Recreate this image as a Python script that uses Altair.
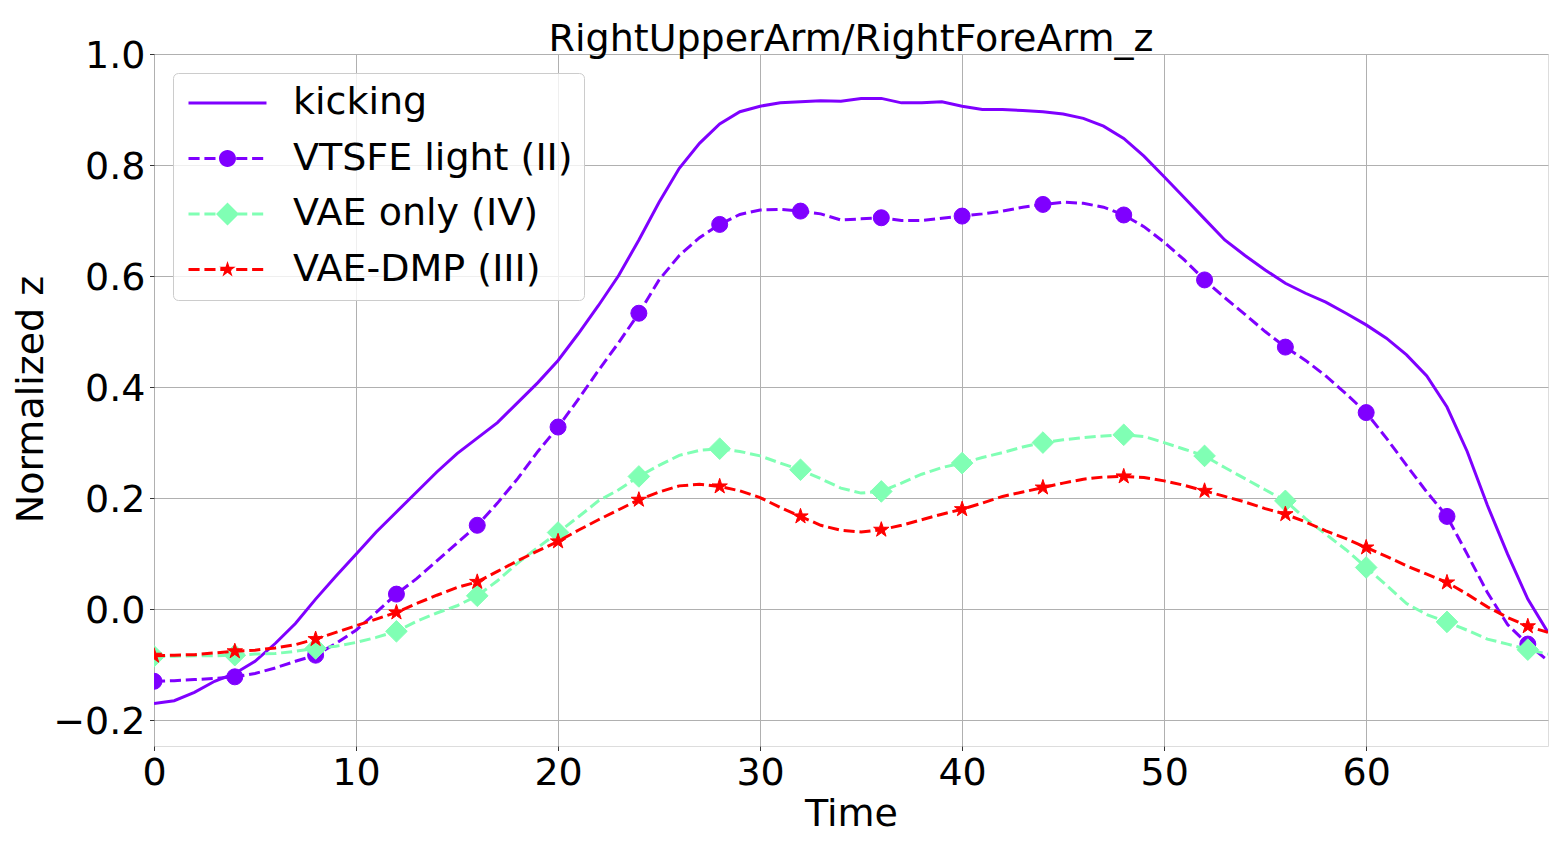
import altair as alt
import pandas as pd

time = list(range(70))

kicking = [-0.170, -0.165, -0.150, -0.130, -0.116, -0.094, -0.062, -0.026, 0.018, 0.059,
           0.099, 0.139, 0.175, 0.211, 0.247, 0.280, 0.308, 0.336, 0.372, 0.408,
           0.448, 0.496, 0.547, 0.601, 0.665, 0.733, 0.794, 0.839, 0.874, 0.896,
           0.906, 0.912, 0.914, 0.916, 0.915, 0.920, 0.920, 0.912, 0.912, 0.914,
           0.906, 0.900, 0.900, 0.898, 0.896, 0.892, 0.884, 0.870, 0.848, 0.816,
           0.779, 0.741, 0.703, 0.665, 0.637, 0.611, 0.587, 0.569, 0.553, 0.533,
           0.512, 0.488, 0.458, 0.420, 0.364, 0.284, 0.187, 0.099, 0.018, -0.042]

vtsfe_light = [-0.130, -0.129, -0.127, -0.125, -0.122, -0.116, -0.106, -0.094, -0.083, -0.062,
               -0.038, -0.006, 0.027, 0.055, 0.087, 0.119, 0.151, 0.191, 0.235, 0.284,
               0.328, 0.378, 0.430, 0.480, 0.533, 0.593, 0.637, 0.669, 0.693, 0.711,
               0.719, 0.720, 0.717, 0.712, 0.701, 0.703, 0.705, 0.700, 0.700, 0.704,
               0.708, 0.712, 0.717, 0.724, 0.729, 0.733, 0.731, 0.724, 0.710, 0.689,
               0.661, 0.629, 0.593, 0.561, 0.531, 0.500, 0.472, 0.448, 0.420, 0.388,
               0.354, 0.308, 0.259, 0.211, 0.167, 0.099, 0.030, -0.028, -0.063, -0.093]

vae_only = [-0.085, -0.085, -0.084, -0.084, -0.083, -0.081, -0.080, -0.076, -0.071, -0.067,
            -0.060, -0.051, -0.040, -0.022, -0.007, 0.006, 0.024, 0.051, 0.083, 0.111,
            0.138, 0.166, 0.195, 0.215, 0.239, 0.259, 0.277, 0.286, 0.289, 0.284,
            0.276, 0.263, 0.251, 0.235, 0.218, 0.209, 0.212, 0.227, 0.243, 0.255,
            0.263, 0.273, 0.282, 0.292, 0.300, 0.305, 0.309, 0.312, 0.314, 0.311,
            0.300, 0.288, 0.276, 0.255, 0.235, 0.215, 0.195, 0.163, 0.135, 0.107,
            0.075, 0.043, 0.010, -0.010, -0.023, -0.038, -0.054, -0.063, -0.073, -0.081]

vae_dmp = [-0.084, -0.083, -0.082, -0.079, -0.076, -0.074, -0.070, -0.064, -0.054, -0.042,
           -0.030, -0.018, -0.006, 0.010, 0.025, 0.039, 0.049, 0.068, 0.087, 0.105,
           0.122, 0.142, 0.161, 0.179, 0.197, 0.211, 0.222, 0.225, 0.221, 0.213,
           0.201, 0.183, 0.167, 0.151, 0.142, 0.139, 0.143, 0.151, 0.161, 0.171,
           0.180, 0.191, 0.203, 0.211, 0.219, 0.227, 0.234, 0.238, 0.239, 0.237,
           0.231, 0.223, 0.213, 0.203, 0.193, 0.181, 0.171, 0.157, 0.141, 0.127,
           0.111, 0.095, 0.078, 0.063, 0.048, 0.027, 0.004, -0.015, -0.031, -0.042]

series_names = ["kicking", "VTSFE light (II)", "VAE only (IV)", "VAE-DMP (III)"]
series_values = [kicking, vtsfe_light, vae_only, vae_dmp]
series_colors = ["#7f00ff", "#7f00ff", "#80ffb4", "#ff0000"]

x_ticks = [0, 10, 20, 30, 40, 50, 60]
y_ticks = [-0.2, 0.0, 0.2, 0.4, 0.6, 0.8, 1.0]

rows = []
for name, vals in zip(series_names, series_values):
    for t, v in zip(time, vals):
        rows.append({"Time": t, "z": v, "series": name})
df = pd.DataFrame(rows)

FONT = "DejaVu Sans"
FS = 38

X = alt.X("Time:Q",
          scale=alt.Scale(domain=[0, 69], nice=False, zero=False),
          axis=alt.Axis(values=x_ticks, title="Time", labelFlush=False,
                        labelFont=FONT, labelFontSize=FS, labelColor="black",
                        tickSize=4.5, tickColor="#333333", tickWidth=1, labelPadding=3.5,
                        grid=True, gridColor="#b0b0b0", gridWidth=1, domain=False,
                        titleFont=FONT, titleFontSize=FS, titleFontWeight="normal",
                        titleColor="black", titleBaseline="alphabetic",
                        titleX=697, titleY=79, titleAlign="center"))
Y = alt.Y("z:Q",
          scale=alt.Scale(domain=[-0.2466, 1.0], nice=False, zero=False),
          axis=alt.Axis(values=y_ticks, format=".1f", title="Normalized z",
                        labelFont=FONT, labelFontSize=FS, labelColor="black",
                        tickSize=4.5, tickColor="#333333", tickWidth=1, labelPadding=4.5,
                        labelOffset=2,
                        grid=True, gridColor="#b0b0b0", gridWidth=1, domain=False,
                        titleFont=FONT, titleFontSize=FS, titleFontWeight="normal",
                        titleColor="black", titleBaseline="alphabetic", titleAngle=270,
                        titleX=-112, titleY=345, titleAlign="center"))

base = alt.Chart(df)

STAR = ("M0,-1L0.2245,-0.309L0.951,-0.309L0.363,0.118L0.588,0.809L0,0.382"
        "L-0.588,0.809L-0.363,0.118L-0.951,-0.309L-0.2245,-0.309Z")


def line_layer(name, color, dashed):
    kw = dict(color=color, strokeWidth=3, clip=True)
    if dashed:
        kw["strokeDash"] = [11.1, 4.8]
    return base.transform_filter(alt.datum.series == name).mark_line(**kw).encode(x=X, y=Y)


def marker_layer(name, color, shape, size):
    return (base.transform_filter((alt.datum.series == name) & (alt.datum.Time % 4 == 0))
            .mark_point(shape=shape, size=size, filled=True, color=color, stroke=color,
                        strokeWidth=1, opacity=1, clip=True)
            .encode(x=X, y=Y))


# legend symbols: line (as thin filled rects) + marker, in symbol units
H = 0.091


def seg(a, b):
    return f"M{a},{-H}H{b}V{H}H{a}Z"


dash_segments = [(-0.879, -0.206), (0.085, 0.758), (1.048, 1.721), (2.012, 2.685), (2.976, 3.648)]
dashed_line = "".join(seg(a, b) for a, b in dash_segments)
cx = 1.485
r_c = 0.515
circle = f"M{cx - r_c},0A{r_c},{r_c} 0 1,1 {cx + r_c},0A{r_c},{r_c} 0 1,1 {cx - r_c},0Z"
d = 0.697
diamond = f"M{cx},{-d}L{cx + d},0L{cx},{d}L{cx - d},0Z"
R = 0.52
star_pts = [(0, -1), (0.2245, -0.309), (0.951, -0.309), (0.363, 0.118), (0.588, 0.809),
            (0, 0.382), (-0.588, 0.809), (-0.363, 0.118), (-0.951, -0.309), (-0.2245, -0.309)]
star = "M" + "L".join(f"{cx + px * R:.3f},{py * R:.3f}" for px, py in star_pts) + "Z"

legend_shapes = [seg(-0.879, 3.848), dashed_line + circle, dashed_line + diamond, dashed_line + star]

leg = alt.Legend(title=None, orient="top-left", offset=19, padding=11, rowPadding=17.5,
                 labelFont=FONT, labelFontSize=FS, labelColor="black", labelOffset=71,
                 labelLimit=500, symbolSize=1089, symbolStrokeWidth=0, symbolOpacity=1,
                 fillColor="rgba(255,255,255,0.8)", strokeColor="#cccccc", cornerRadius=5)

legend_layer = (base.transform_filter("false")
                .mark_point(filled=True, opacity=1, strokeWidth=0)
                .encode(color=alt.Color("series:N",
                                        scale=alt.Scale(domain=series_names, range=series_colors),
                                        legend=leg),
                        shape=alt.Shape("series:N",
                                        scale=alt.Scale(domain=series_names, range=legend_shapes),
                                        legend=leg)))

layers = [
    line_layer("kicking", series_colors[0], False),
    line_layer("VTSFE light (II)", series_colors[1], True),
    marker_layer("VTSFE light (II)", series_colors[1], "circle", 256),
    line_layer("VAE only (IV)", series_colors[2], True),
    marker_layer("VAE only (IV)", series_colors[2], "diamond", 467),
    line_layer("VAE-DMP (III)", series_colors[3], True),
    marker_layer("VAE-DMP (III)", series_colors[3], STAR, 260),
    legend_layer,
]

chart = (alt.layer(*layers)
         .properties(width=1394, height=692,
                     title=alt.TitleParams("RightUpperArm/RightForeArm_z", font=FONT, fontSize=FS,
                                           fontWeight="normal", color="black", anchor="middle",
                                           baseline="alphabetic", offset=8, dy=60),
                     autosize=alt.AutoSizeParams(type="none"),
                     padding={"left": 146, "top": 46, "right": 5, "bottom": 89})
         .configure_view(stroke="#555555", strokeWidth=1.3)
         .configure(background="white"))

chart.save("out.html", embed_options={"renderer": "svg", "actions": False})
